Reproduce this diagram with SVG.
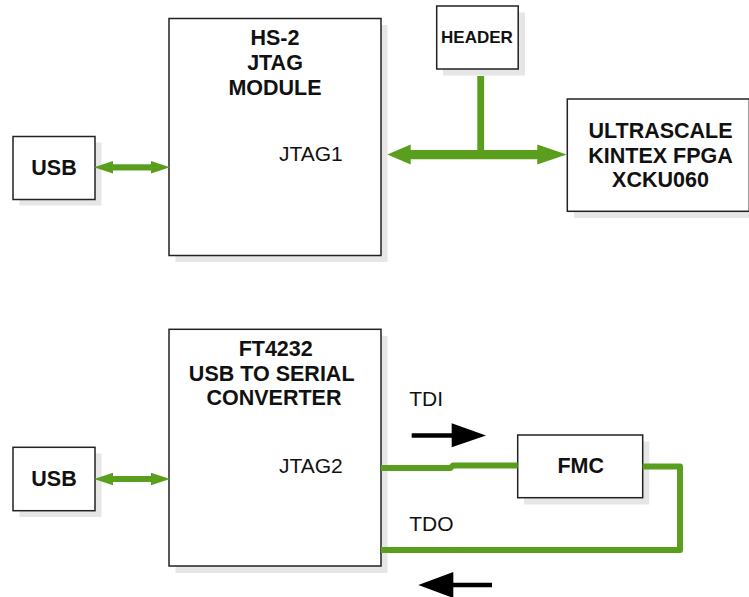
<svg xmlns="http://www.w3.org/2000/svg" width="749" height="597" viewBox="0 0 749 597">
<style>
.sh{fill:#e6e6e6;stroke:none}
.bx{fill:#fff;stroke:#222;stroke-width:1.5}
.b{font-family:"Liberation Sans",Arial,sans-serif;font-weight:bold;font-size:21.5px;fill:#111;text-anchor:middle}
.r{font-family:"Liberation Sans",Arial,sans-serif;font-size:21px;fill:#111}
.g{fill:#5a9e1e}
.gl{fill:none;stroke:#5a9e1e;stroke-width:6;stroke-linejoin:round}
</style>
<rect width="749" height="597" fill="#fff"/>
<g id="usb1">
<rect class="sh" x="19.5" y="142.5" width="82" height="63"/>
<rect class="bx" x="13" y="136.5" width="82" height="63"/>
<text class="b" x="54" y="175">USB</text>
</g>
<g id="hs2">
<rect class="sh" x="175.5" y="25" width="212" height="237"/>
<rect class="bx" x="169" y="18.5" width="212" height="237"/>
<text class="b" x="275" y="45">HS-2</text>
<text class="b" x="275" y="70">JTAG</text>
<text class="b" x="275" y="95">MODULE</text>
<text class="r" x="279" y="161">JTAG1</text>
</g>
<g id="header">
<rect class="sh" x="443" y="12.5" width="82" height="63"/>
<rect class="bx" x="436.7" y="6" width="81.5" height="63"/>
<text class="b" x="477" y="43" style="font-size:17px">HEADER</text>
</g>
<g id="fpga">
<rect class="sh" x="574" y="105.5" width="182" height="112.5"/>
<rect class="bx" x="567.3" y="99" width="182" height="112.3"/>
<text class="b" x="660.5" y="138">ULTRASCALE</text>
<text class="b" x="660.5" y="162.5">KINTEX FPGA</text>
<text class="b" x="660.5" y="187">XCKU060</text>
</g>
<g id="usb2">
<rect class="sh" x="19.5" y="453.5" width="82" height="63.5"/>
<rect class="bx" x="13" y="447.3" width="82" height="63.4"/>
<text class="b" x="54" y="485.7">USB</text>
</g>
<g id="ft4232">
<rect class="sh" x="175.5" y="336" width="212" height="237"/>
<rect class="bx" x="169" y="329.3" width="212" height="236.7"/>
<text class="b" x="275.7" y="356">FT4232</text>
<text class="b" x="271.7" y="381">USB TO SERIAL</text>
<text class="b" x="274" y="405">CONVERTER</text>
<text class="r" x="279" y="472.7">JTAG2</text>
</g>
<g id="fmc">
<rect class="sh" x="524" y="441.5" width="125.3" height="63"/>
<rect class="bx" x="517.7" y="435" width="125" height="62.7"/>
<text class="b" x="580.7" y="472.7">FMC</text>
</g>
<g id="connectors">
<polygon class="g" points="94,167.3 113,161 113,164.3 151,164.3 151,161 170,167.3 151,173.6 151,170.4 113,170.4 113,173.6"/>
<polygon class="g" points="94,479 113,472.7 113,476 151,476 151,472.7 170,479 151,485.3 151,482.1 113,482.1 113,485.3"/>
<rect class="g" x="477.3" y="76" width="6.8" height="78"/>
<polygon class="g" points="387.3,154.5 410.7,144.5 410.7,150 537.3,150 537.3,144.5 566.7,154.5 537.3,164.5 537.3,159.2 410.7,159.2 410.7,164.5"/>
<path class="gl" d="M381,468 H450.5 L453,465.5 H517.7"/>
<path class="gl" d="M642.7,466.5 H680 V550 H381"/>
<text class="r" x="409.3" y="406">TDI</text>
<text class="r" x="409.3" y="530.7">TDO</text>
<line x1="411.7" y1="435.5" x2="453" y2="435.5" stroke="#000" stroke-width="4.5"/>
<polygon points="451.7,423.3 486,435.5 451.7,447.3" fill="#000"/>
<line x1="451" y1="585" x2="492" y2="585" stroke="#000" stroke-width="4.5"/>
<polygon points="453.3,572 418.3,585 453.3,598" fill="#000"/>
</g>
</svg>
